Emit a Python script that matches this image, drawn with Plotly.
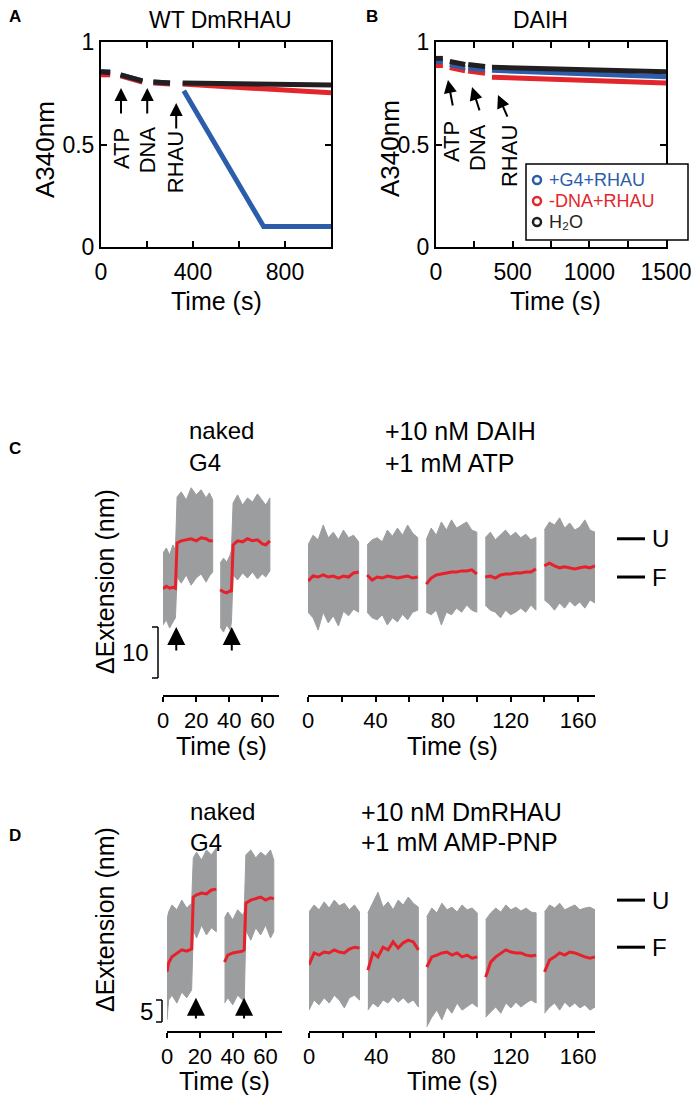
import plotly.graph_objects as go

# ---------------- Panel A (WT DmRHAU) ----------------
a_seg_t = [[0, 40], [85, 180], [228, 300], [355, 1000]]
a_black = [[0.855, 0.85], [0.84, 0.81], [0.805, 0.80], [0.80, 0.79]]
a_red = [[0.84, 0.84], [0.835, 0.805], [0.80, 0.795], [0.795, 0.752]]
a_blue_t = [[0, 40], [85, 180], [228, 300], [360, 707, 1000]]
a_blue = [[0.855, 0.855], [0.84, 0.81], [0.805, 0.80], [0.762, 0.10, 0.10]]

# ---------------- Panel B (DAIH) ----------------
b_seg_t = [[0, 45], [90, 190], [210, 320], [365, 1500]]
b_black = [[0.92, 0.92], [0.905, 0.89], [0.89, 0.88], [0.877, 0.855]]
b_blue = [[0.905, 0.905], [0.89, 0.875], [0.873, 0.865], [0.862, 0.83]]
b_red = [[0.885, 0.885], [0.875, 0.86], [0.858, 0.848], [0.828, 0.80]]

series_names = ["+G4+RHAU", "-DNA+RHAU", "H₂O"]

# ---------------- Panel C (nm) ----------------
cl_t = [[0, 2, 4, 6, 7.5, 8.5, 11, 14, 17, 20, 23, 26, 28, 30],
        [34.5, 36.5, 38.5, 40.5, 41.3, 42.3, 45, 48, 51, 54, 57, 60, 62, 64.5]]
cl_red = [[17.5, 18.0, 17.6, 17.8, 17.6, 26.5, 26.9, 27.1, 27.3, 26.9, 27.5, 27.3, 26.9, 26.9],
          [17.3, 16.9, 16.7, 17.1, 16.9, 26.1, 26.9, 26.7, 27.3, 26.9, 27.1, 26.3, 26.1, 26.9]]
cl_hi = [[24.5, 25.5, 24.1, 26.1, 25.1, 35.5, 36.5, 34.9, 37.3, 35.9, 36.9, 35.3, 36.3, 34.9],
         [22.5, 23.5, 22.7, 24.1, 25.1, 34.3, 35.9, 33.9, 35.3, 34.5, 36.1, 34.9, 33.9, 35.3]]
cl_lo = [[10.4, 11.4, 9.8, 11.0, 11.8, 19.8, 18.6, 20.2, 18.2, 19.6, 20.4, 18.8, 20.0, 20.8],
         [10.0, 9.0, 10.4, 9.4, 11.0, 20.2, 19.2, 20.6, 19.6, 20.8, 19.4, 20.4, 19.8, 21.0]]

cr_t = [[0, 3, 6, 9, 12, 15, 18, 21, 24, 27, 30],
        [35, 38, 41, 44, 47, 50, 53, 56, 59, 62, 65],
        [70, 73, 76, 79, 82, 85, 88, 91, 94, 97, 100],
        [105, 108, 111, 114, 117, 120, 123, 126, 129, 132, 135],
        [140, 143, 146, 149, 152, 155, 158, 161, 164, 167, 170]]
cr_red = [[19.0, 20.0, 19.8, 20.2, 19.8, 20.0, 19.6, 20.0, 19.8, 20.6, 20.8],
          [20.2, 19.2, 19.8, 19.6, 20.0, 19.8, 19.6, 19.8, 20.0, 19.6, 19.8],
          [18.4, 19.6, 20.2, 20.4, 20.6, 20.8, 20.8, 21.0, 21.0, 21.2, 20.4],
          [19.8, 20.0, 19.6, 20.2, 20.4, 20.4, 20.6, 20.6, 20.8, 20.8, 21.4],
          [22.0, 22.5, 22.0, 21.6, 21.8, 21.6, 21.4, 21.6, 21.8, 21.6, 22.0]]
cr_hi = [[26.1, 28.0, 27.1, 30.0, 27.5, 28.6, 27.1, 29.0, 27.5, 28.0, 26.7],
         [26.1, 27.1, 27.5, 26.7, 29.0, 27.8, 29.4, 28.0, 30.0, 28.4, 27.5],
         [27.1, 29.4, 28.0, 30.6, 29.0, 31.0, 29.4, 30.0, 30.6, 29.0, 28.6],
         [27.5, 28.6, 27.1, 28.0, 29.0, 27.8, 28.6, 27.5, 28.2, 27.1, 27.6],
         [29.0, 30.6, 30.0, 31.4, 29.4, 30.4, 29.0, 29.6, 31.0, 29.0, 28.6]]
cr_lo = [[12.9, 11.8, 9.4, 12.9, 10.8, 12.2, 10.2, 13.1, 12.2, 13.5, 12.9],
         [12.9, 11.8, 11.4, 12.4, 10.4, 11.8, 11.0, 12.5, 11.4, 12.9, 13.3],
         [12.9, 12.4, 13.3, 10.4, 12.9, 12.4, 13.7, 12.9, 14.3, 13.3, 12.9],
         [14.3, 13.3, 12.9, 11.8, 13.3, 12.4, 12.9, 13.7, 12.9, 14.3, 13.3],
         [15.3, 14.5, 13.3, 14.7, 13.7, 15.1, 14.1, 14.9, 13.7, 15.3, 14.7]]
c_arrow_t = [8, 41.5]
c_levels = [27.3, 19.8]

# ---------------- Panel D (nm) ----------------
dl_t = [[0, 1, 3, 6, 9, 12, 15, 16, 18, 21, 24, 27, 30],
        [35, 37, 40, 43, 46, 47, 48, 51, 54, 57, 60, 63, 65]]
dl_red = [[11.4, 13.4, 14.8, 15.7, 16.4, 16.1, 16.6, 28.4, 28.9, 29.3, 29.1, 30.0, 30.2],
          [13.6, 15.2, 15.7, 15.9, 16.1, 16.4, 27.0, 27.7, 28.0, 28.4, 27.7, 28.2, 28.0]]
dl_hi = [[23.2, 25.0, 26.6, 25.5, 27.7, 25.9, 27.0, 37.3, 38.6, 36.8, 39.1, 38.0, 39.5],
         [23.6, 25.0, 23.2, 25.5, 24.3, 25.0, 38.0, 39.1, 37.3, 38.6, 37.7, 39.1, 36.8]]
dl_lo = [[0.5, 5.0, 6.1, 4.3, 6.8, 5.5, 7.3, 20.9, 19.1, 22.0, 19.8, 21.4, 20.5],
         [4.3, 5.5, 3.9, 6.1, 5.0, 4.5, 20.9, 18.6, 21.4, 19.8, 22.0, 19.1, 20.5]]

dr_t = cr_t
dr_red = [[13.0, 15.7, 15.2, 15.9, 15.7, 16.4, 15.9, 15.7, 16.6, 17.0, 16.8],
          [11.8, 15.7, 14.8, 17.0, 16.4, 18.2, 16.8, 18.0, 18.6, 18.2, 16.4],
          [12.5, 14.8, 15.2, 15.7, 15.9, 15.2, 15.7, 14.8, 15.2, 14.5, 14.8],
          [10.2, 13.6, 14.8, 15.7, 16.4, 15.9, 15.7, 15.7, 15.2, 15.0, 15.2],
          [11.4, 14.1, 14.8, 15.7, 15.2, 15.9, 15.7, 15.2, 14.8, 14.5, 14.8]]
dr_hi = [[25.0, 26.6, 25.5, 27.3, 25.9, 27.7, 26.4, 27.0, 25.5, 26.6, 25.0],
         [24.8, 27.0, 29.5, 26.1, 27.3, 25.5, 27.7, 26.6, 28.4, 27.0, 26.1],
         [23.9, 25.9, 24.8, 27.0, 25.5, 26.1, 25.0, 26.6, 25.5, 25.9, 24.8],
         [23.2, 24.8, 25.9, 25.0, 26.6, 25.5, 26.1, 25.2, 25.9, 25.0, 24.8],
         [25.0, 26.6, 25.9, 27.0, 25.5, 26.1, 26.6, 25.5, 25.9, 26.1, 25.5]]
dr_lo = [[2.7, 5.0, 3.9, 5.5, 4.3, 6.1, 5.0, 3.2, 5.5, 6.1, 5.0],
         [2.7, 4.3, 3.4, 5.0, 4.3, 5.7, 4.5, 5.5, 4.3, 5.0, 3.4],
         [-1.1, 1.1, 2.7, 0.5, 3.4, 2.0, 4.3, 2.7, 3.4, 4.3, 3.4],
         [1.1, 2.3, 3.4, 2.0, 4.3, 3.2, 4.5, 3.4, 4.3, 5.0, 4.3],
         [2.0, 3.4, 4.3, 2.7, 4.5, 3.4, 4.3, 3.2, 3.9, 2.7, 3.4]]
d_arrow_t = [17.6, 46.9]
d_levels = [27.7, 17.0]
level_labels = ["U", "F"]

# ---------------- styling ----------------
FONT = "Liberation Sans, Arial, Helvetica, DejaVu Sans, sans-serif"
W, H = 700, 1099
BLUE, RED, BLACK = "#2b5daa", "#e3262b", "#231f20"
GRAY, TRED = "#9b9d9f", "#e8202a"


def fx(p):
    return p / W


def fy(p):
    return 1 - p / H


def join(ts, vs):
    xs, ys = [], []
    for t, v in zip(ts, vs):
        xs += list(t) + [None]
        ys += list(v) + [None]
    return xs, ys


fig = go.Figure()

# A/B kinetic traces
for (ts, vs, col) in [(a_seg_t, a_red, RED), (a_blue_t, a_blue, BLUE), (a_seg_t, a_black, BLACK)]:
    x, y = join(ts, vs)
    fig.add_trace(go.Scatter(x=x, y=y, mode="lines", line=dict(color=col, width=5),
                             xaxis="x", yaxis="y", showlegend=False, hoverinfo="skip"))
for (vs, col, nm) in [(b_red, RED, series_names[1]), (b_blue, BLUE, series_names[0]),
                      (b_black, BLACK, series_names[2])]:
    x, y = join(b_seg_t, vs)
    fig.add_trace(go.Scatter(x=x, y=y, mode="lines", line=dict(color=col, width=5), name=nm,
                             xaxis="x2", yaxis="y2", showlegend=False, hoverinfo="skip"))


def add_traces(ts, red, hi, lo, xa, ya):
    for t, r, h, l in zip(ts, red, hi, lo):
        fig.add_trace(go.Scatter(x=list(t) + list(t)[::-1], y=list(h) + list(l)[::-1],
                                 fill="toself", fillcolor=GRAY, mode="lines",
                                 line=dict(color=GRAY, width=1), xaxis=xa, yaxis=ya,
                                 showlegend=False, hoverinfo="skip"))
    for t, r in zip(ts, red):
        fig.add_trace(go.Scatter(x=t, y=r, mode="lines", line=dict(color=TRED, width=3),
                                 xaxis=xa, yaxis=ya, showlegend=False, hoverinfo="skip"))


add_traces(cl_t, cl_red, cl_hi, cl_lo, "x3", "y3")
add_traces(cr_t, cr_red, cr_hi, cr_lo, "x4", "y4")
add_traces(dl_t, dl_red, dl_hi, dl_lo, "x5", "y5")
add_traces(dr_t, dr_red, dr_hi, dr_lo, "x6", "y6")

tickfont = dict(family=FONT, size=23, color="black")
box = dict(showline=True, linecolor="black", linewidth=2, mirror="ticks", ticks="inside",
           ticklen=6, tickwidth=2, tickcolor="black", showgrid=False, zeroline=False,
           tickfont=tickfont, automargin=False)
trace_x = dict(showline=True, linecolor="black", linewidth=1.5, ticks="outside", ticklen=5,
               tickwidth=1.5, tickcolor="black", showgrid=False, zeroline=False,
               tickfont=dict(family=FONT, size=22, color="black"), automargin=False)
noy = dict(visible=False, showgrid=False, zeroline=False, automargin=False)

yA = [fy(247), fy(42)]
yC = [fy(695), fy(470)]
yD = [fy(1031), fy(835)]
c_rng = [(678 - 695) / 5.1, (678 - 470) / 5.1]
d_rng = [(1022 - 1031) / 4.4, (1022 - 835) / 4.4]

fig.update_layout(
    width=W, height=H, margin=dict(l=0, r=0, t=0, b=0, pad=0, autoexpand=False),
    plot_bgcolor="white", paper_bgcolor="white", showlegend=False,
    font=dict(family=FONT, color="black"),
    xaxis=dict(box, domain=[fx(101), fx(331)], anchor="y", range=[0, 1000],
               tickvals=[0, 200, 400, 600, 800, 1000], ticktext=["0", "", "400", "", "800", ""],
               ticklabelstandoff=3),
    yaxis=dict(box, domain=yA, anchor="x", range=[0, 1], tickvals=[0, 0.5, 1],
               ticktext=["0", "0.5", "1"]),
    xaxis2=dict(box, domain=[fx(436), fx(666)], anchor="y2", range=[0, 1500],
                tickvals=[0, 250, 500, 750, 1000, 1250, 1500],
                ticktext=["0", "", "500", "", "1000", "", "1500"],
                ticklabelstandoff=3),
    yaxis2=dict(box, domain=yA, anchor="x2", range=[0, 1], tickvals=[0, 0.5, 1],
                ticktext=["0", "0.5", "1"]),
    xaxis3=dict(trace_x, domain=[fx(163), fx(279)], anchor="y3", range=[0, 70],
                tickvals=[0, 20, 40, 60]),
    yaxis3=dict(noy, domain=yC, anchor="x3", range=c_rng),
    xaxis4=dict(trace_x, domain=[fx(308), fx(595)], anchor="y4", range=[0, 170],
                tickvals=[0, 20, 40, 60, 80, 100, 120, 140, 160],
                ticktext=["0", "", "40", "", "80", "", "120", "", "160"]),
    yaxis4=dict(noy, domain=yC, anchor="x4", range=c_rng),
    xaxis5=dict(trace_x, domain=[fx(167), fx(282)], anchor="y5", range=[0, 70],
                tickvals=[0, 20, 40, 60]),
    yaxis5=dict(noy, domain=yD, anchor="x5", range=d_rng),
    xaxis6=dict(trace_x, domain=[fx(309), fx(595)], anchor="y6", range=[0, 170],
                tickvals=[0, 20, 40, 60, 80, 100, 120, 140, 160],
                ticktext=["0", "", "40", "", "80", "", "120", "", "160"]),
    yaxis6=dict(noy, domain=yD, anchor="x6", range=d_rng),
)

ann = []
shapes = []


def txt(x, y, s, size=24, **kw):
    d = dict(x=x, y=y, text=s, showarrow=False, font=dict(family=FONT, size=size, color="black"),
             xref="paper", yref="paper", xanchor="center", yanchor="middle")
    d.update(kw)
    ann.append(d)


# panel letters, titles, axis titles
for L, (x, y) in zip("ABCD", [(15, 17), (372, 17), (15, 448), (15, 835)]):
    txt(fx(x), fy(y), f"<b>{L}</b>", size=17)
txt(fx(220), fy(20), "WT DmRHAU", size=23)
txt(fx(540), fy(20), "DAIH", size=23)
txt(fx(45), fy(149), "A340nm", size=26, textangle=-90)
txt(fx(390), fy(149), "A340nm", size=26, textangle=-90)
for (x, y) in [(216, 301), (555, 301), (222, 746), (452, 746), (224, 1081), (452, 1081)]:
    txt(fx(x), fy(y), "Time (s)", size=25)

# A / B arrows & labels
for (lab, tx, ty, hx, hy, bx, by) in [("ATP", 87, 0.478, 87, 0.776, 87, 0.644),
                                      ("DNA", 201, 0.473, 201, 0.776, 201, 0.644),
                                      ("RHAU", 327, 0.415, 327, 0.702, 327, 0.571)]:
    txt(tx, ty, lab, size=22, textangle=-90, xref="x", yref="y")
    ann.append(dict(x=hx, y=hy, ax=bx, ay=by, xref="x", yref="y", axref="x", ayref="y",
                    text="", showarrow=True, arrowhead=2, arrowsize=1.3, arrowwidth=2,
                    arrowcolor="black"))
for (lab, tx, ty, hx, hy, bx, by) in [("ATP", 98, 0.512, 78, 0.815, 111, 0.683),
                                      ("DNA", 274, 0.483, 235, 0.78, 287, 0.659),
                                      ("RHAU", 483, 0.444, 404, 0.741, 470, 0.629)]:
    txt(tx, ty, lab, size=22, textangle=-90, xref="x2", yref="y2")
    ann.append(dict(x=hx, y=hy, ax=bx, ay=by, xref="x2", yref="y2", axref="x2", ayref="y2",
                    text="", showarrow=True, arrowhead=2, arrowsize=1.3, arrowwidth=2,
                    arrowcolor="black"))

# legend (panel B), drawn as box + open circles + coloured labels
shapes.append(dict(type="rect", xref="paper", yref="paper", x0=fx(526), x1=fx(688),
                   y0=fy(240), y1=fy(164), line=dict(color="black", width=1.5),
                   fillcolor="white", layer="above"))
for row_y, name, col in zip([180, 201, 222], series_names, [BLUE, RED, BLACK]):
    shapes.append(dict(type="circle", xref="paper", yref="paper", x0=fx(533), x1=fx(541),
                       y0=fy(row_y + 4), y1=fy(row_y - 4), line=dict(color=col, width=2.5),
                       layer="above"))
    txt(fx(547), fy(row_y), name, size=18, xanchor="left",
        font=dict(family=FONT, size=18, color=col))

# C / D headers
txt(fx(187), fy(431), "naked", xanchor="left")
txt(fx(187), fy(463), "G4", xanchor="left")
txt(fx(383), fy(431), "+10 nM DAIH", xanchor="left", size=25)
txt(fx(383), fy(463), "+1 mM ATP", xanchor="left", size=25)
txt(fx(188), fy(812), "naked", xanchor="left")
txt(fx(188), fy(842), "G4", xanchor="left")
txt(fx(359), fy(812), "+10 nM DmRHAU", xanchor="left", size=25)
txt(fx(359), fy(842), "+1 mM AMP-PNP", xanchor="left", size=25)
txt(fx(105), fy(582), "ΔExtension (nm)", size=25, textangle=-90)
txt(fx(105), fy(920), "ΔExtension (nm)", size=25, textangle=-90)

# scale bars
for (xb, ya, top, lab) in [(158, "y3", 10, "10"), (162, "y5", 5, "5")]:
    shapes.append(dict(type="line", xref="paper", yref=ya, x0=fx(xb), x1=fx(xb), y0=0, y1=top,
                       line=dict(color="black", width=1.5)))
    for yy in (0, top):
        shapes.append(dict(type="line", xref="paper", yref=ya, x0=fx(xb - 6), x1=fx(xb), y0=yy,
                           y1=yy, line=dict(color="black", width=1.5)))
    txt(fx(xb - 7), top / 2, lab, xanchor="right", yref=ya)

# U / F level markers
for (ya, levels) in [("y4", c_levels), ("y6", d_levels)]:
    for lv, lab in zip(levels, level_labels):
        shapes.append(dict(type="line", xref="paper", yref=ya, x0=fx(617), x1=fx(645), y0=lv,
                           y1=lv, line=dict(color="black", width=3)))
        txt(fx(650), lv, lab, xanchor="left", yref=ya)

# unfolding arrows
for (xa, ya, ts, head, tail) in [("x3", "y3", c_arrow_t, 10.0, 5.1), ("x5", "y5", d_arrow_t, 5.5, 0.45)]:
    for t in ts:
        ann.append(dict(x=t, y=head, ax=t, ay=tail, xref=xa, yref=ya, axref=xa, ayref=ya,
                        text="", showarrow=True, arrowhead=2, arrowsize=1.8, arrowwidth=2,
                        arrowcolor="black"))

fig.update_layout(annotations=ann, shapes=shapes)
fig.write_html("out.html", config={"displayModeBar": False},
               post_script="document.body.style.margin='0px';")
